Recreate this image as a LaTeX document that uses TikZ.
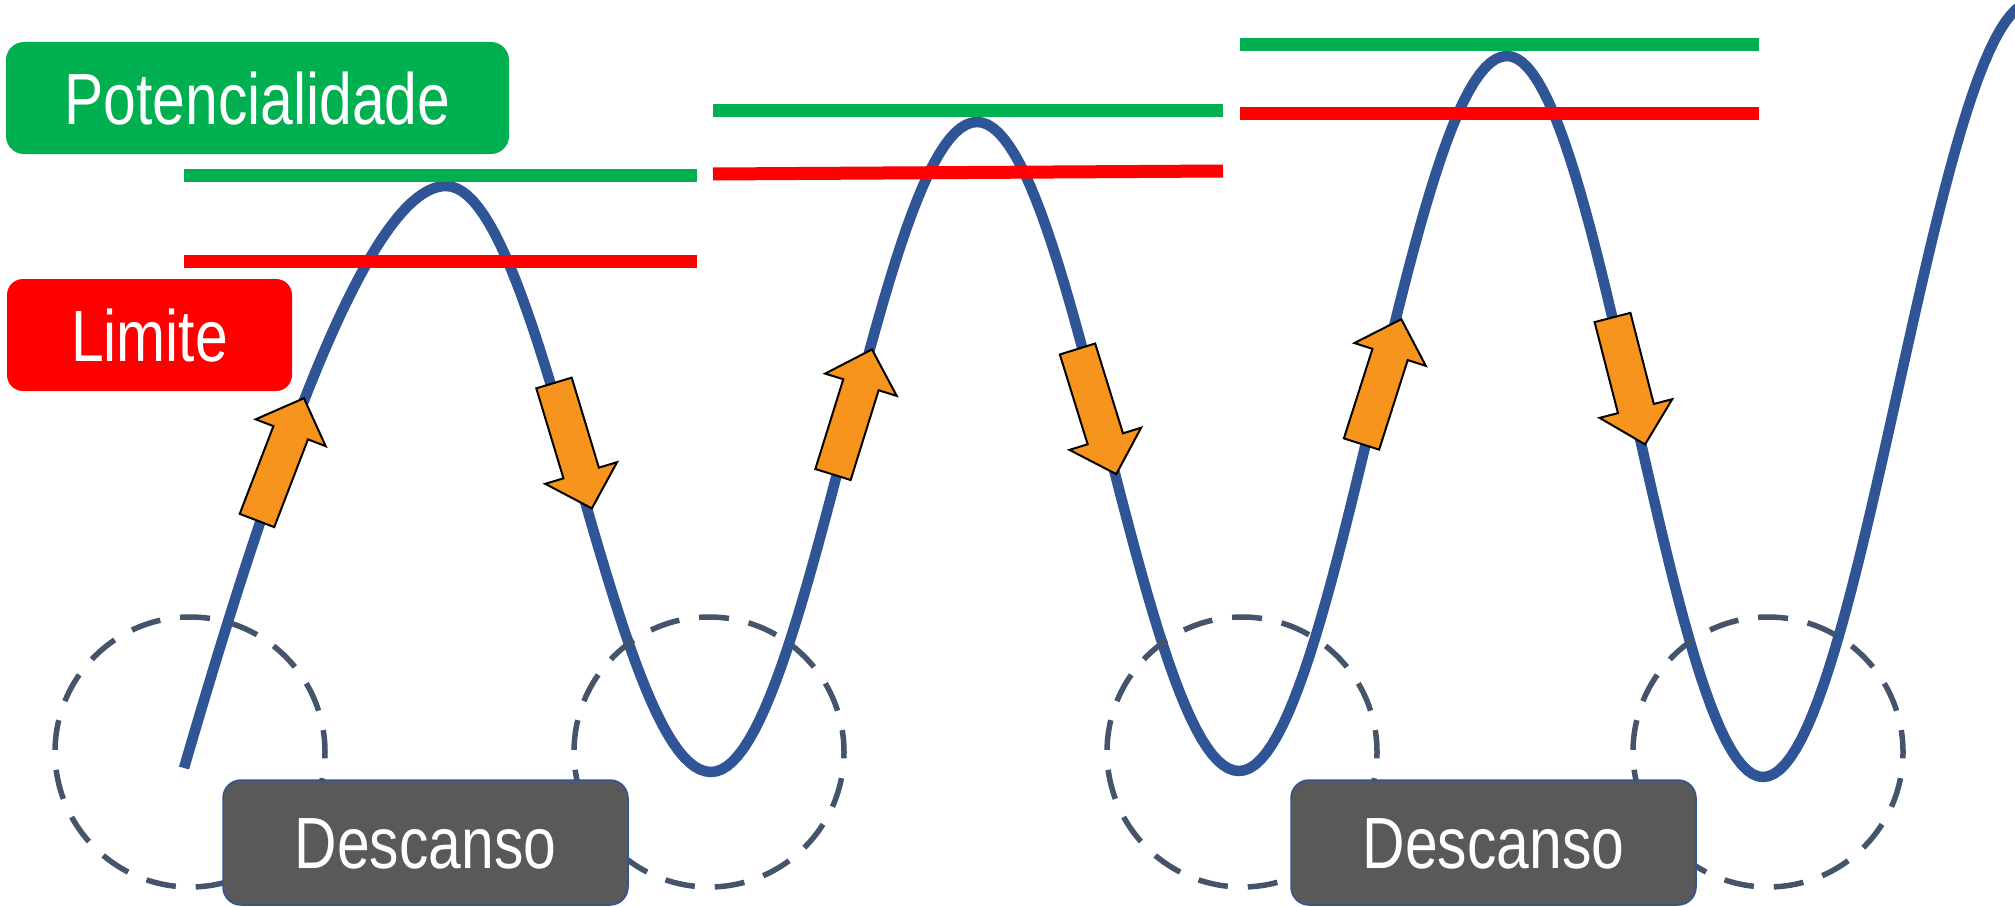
\documentclass[tikz,border=0pt]{standalone}
\usepackage{fontspec}
\setmainfont{Liberation Sans}
\usepackage{graphicx}
\definecolor{pgreen}{HTML}{00B050}
\definecolor{pred}{HTML}{FF0000}
\definecolor{curveblue}{HTML}{2F5597}
\definecolor{dashgray}{HTML}{44546A}
\definecolor{boxgray}{HTML}{595959}
\definecolor{arroworange}{HTML}{F7941D}
\tikzset{
  labelbox/.style={rectangle, rounded corners=18pt, inner sep=0pt, text=white,
    text height=52.3pt, text depth=0pt, font=\fontsize{72.6}{80}\selectfont},
  potbox/.style={labelbox, fill=pgreen, minimum width=503pt, minimum height=112pt},
  limbox/.style={labelbox, fill=pred, rounded corners=16pt, minimum width=285pt, minimum height=112pt},
  restbox/.style={labelbox, fill=boxgray, draw=curveblue, line width=1.5pt, minimum width=405pt, minimum height=125pt},
  levelgreen/.style={pgreen, line width=13pt},
  levelred/.style={pred, line width=13pt},
  wave/.style={curveblue, line width=10.5pt, line join=round},
  restcircle/.style={dashgray, line width=5.5pt, dash pattern=on 30pt off 20pt, dash phase=8pt},
  blockarrow/.style={fill=arroworange, draw=black, line width=2pt, line join=miter},
}
\newcommand{\orangearrow}[2]{%
  \begin{scope}[shift={#1}, rotate=#2]
    \draw[blockarrow] (0,-18.5) -- (94,-18.5) -- (94,-37.5) -- (131,0) -- (94,37.5) -- (94,18.5) -- (0,18.5) -- cycle;
  \end{scope}}
\begin{document}
\begin{tikzpicture}[x=1pt,y=-1pt]
\useasboundingbox (0,0) rectangle (2015,907);
\fill[white] (0,0) rectangle (2015,907);
\begin{scope}
\clip (0,0) rectangle (2015,907);
% wave
\draw[wave] (184,768) .. controls (254,528) and (361,186) .. (446,186)
  -- plot[domain=0:1,samples=50] ({446+265*\x},{186+586*(1-cos(180*\x))/2})
  -- plot[domain=0:1,samples=50] ({711+266*\x},{772-650*(1-cos(180*\x))/2})
  -- plot[domain=0:1,samples=50] ({977+262*\x},{122+649*(1-cos(180*\x))/2})
  -- plot[domain=0:1,samples=50] ({1239+268*\x},{771-715*(1-cos(180*\x))/2})
  -- plot[domain=0:1,samples=50] ({1507+256*\x},{56+721*(1-cos(180*\x))/2})
  -- plot[domain=0:1,samples=50] ({1763+270*\x},{777-775*(1-cos(180*\x))/2});
\end{scope}
% level lines
\draw[levelgreen] (184,175) -- (697,175);
\draw[levelred] (184,261.5) -- (697,261.5);
\draw[levelgreen] (713,110.5) -- (1223,110.5);
\draw[levelred] (713,174) -- (1223,171);
\draw[levelgreen] (1240,44.5) -- (1759,44.5);
\draw[levelred] (1240,113.5) -- (1759,113.5);
% arrows
\orangearrow{(257,520.5)}{69}
\orangearrow{(554,383)}{-73.2}
\orangearrow{(833,474.5)}{72.7}
\orangearrow{(1077.5,349)}{-72.8}
\orangearrow{(1361.5,444)}{72.3}
\orangearrow{(1612.5,317.5)}{-75.6}
% rest circles
\draw[restcircle] (190,752) circle[radius=135pt];
\draw[restcircle] (709,752) circle[radius=135pt];
\draw[restcircle] (1242,752) circle[radius=135pt];
\draw[restcircle] (1768,752) circle[radius=135pt];
% labels
\node[potbox] (pot) at (257.5,98) {\scalebox{0.81}[1]{Potencialidade}};
\node[limbox] (lim) at (149.5,335) {\scalebox{0.81}[1]{Limite}};
\node[restbox] (rest1) at (425.5,842.5) {\scalebox{0.81}[1]{Descanso}};
\node[restbox] (rest2) at (1493.5,842.5) {\scalebox{0.81}[1]{Descanso}};
\end{tikzpicture}
\end{document}
